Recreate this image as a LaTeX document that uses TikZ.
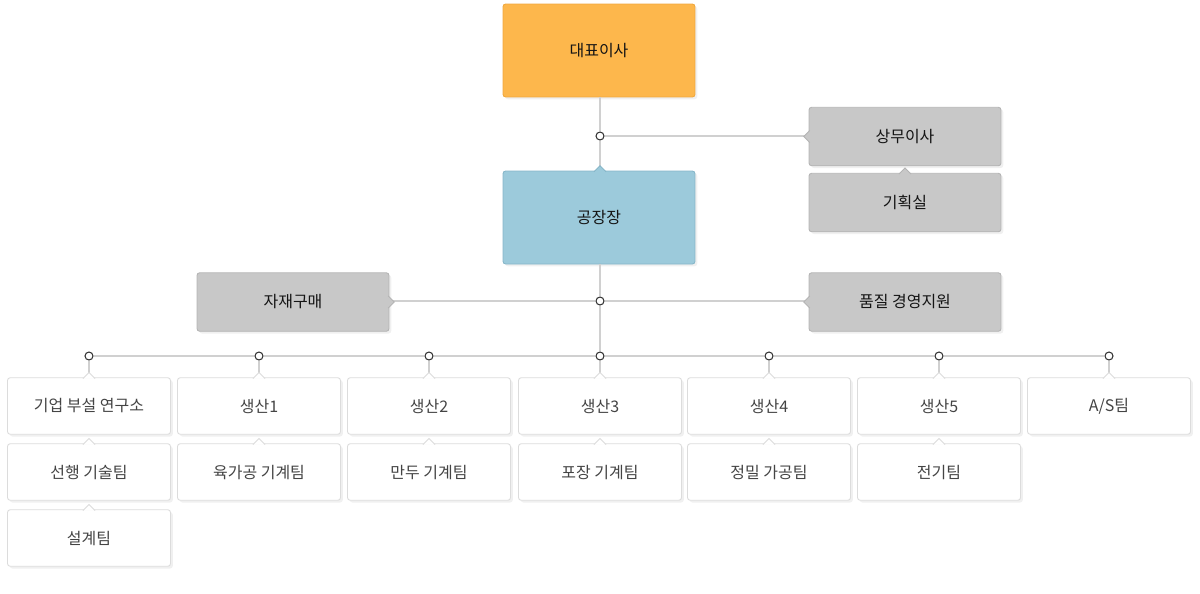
\documentclass[tikz,border=0pt]{standalone}
\usepackage{fontspec}
\setmainfont{Noto Sans CJK KR}
\usetikzlibrary{shadows,positioning}

\definecolor{ceofill}{HTML}{FDB74C}
\definecolor{ceoline}{HTML}{F0A83E}
\definecolor{plantfill}{HTML}{9CCADB}
\definecolor{plantline}{HTML}{86B6C8}
\definecolor{stafffill}{HTML}{C8C8C8}
\definecolor{staffline}{HTML}{B4B4B4}
\definecolor{teamline}{HTML}{DCDCDC}
\definecolor{linkcol}{HTML}{D0D0D0}
\definecolor{jointcol}{HTML}{333333}
\definecolor{darktxt}{HTML}{141414}
\definecolor{teamtxt}{HTML}{444444}

\begin{document}
\begin{tikzpicture}[x=0.02cm,y=-0.02cm,
  box/.style={rounded corners=1.5pt,inner sep=0pt,minimum width=3.84cm,
    font=\fontsize{9.1}{10}\selectfont,text=darktxt,line width=0.5pt,
    drop shadow={shadow xshift=1.3pt,shadow yshift=-1.3pt,opacity=0.12}},
  big/.style={box,minimum height=1.86cm},
  side/.style={box,fill=stafffill,draw=staffline,minimum height=1.17cm},
  team/.style={box,fill=white,draw=teamline,text=teamtxt,
    minimum width=3.26cm,minimum height=1.13cm},
  link/.style={draw=linkcol,line width=0.6pt},
  joint/.style={circle,draw=jointcol,fill=white,line width=0.6pt,
    inner sep=0pt,minimum size=0.16cm}]
  \useasboundingbox (0,0) rectangle (1200,593);

  % top of the chart
  \node[big,fill=ceofill,draw=ceoline] (ceo) at (599,50.5) {대표이사};
  \node[big,fill=plantfill,draw=plantline] (plant) at (599,217.5) {공장장};
  \node[side] (exec) at (905,136.5) {상무이사};
  \node[side] (plan) at (905,202.5) {기획실};
  \node[side] (purchase) at (293,302) {자재구매};
  \node[side] (quality) at (905,302) {품질 경영지원};

  % joints on the main line
  \node[joint] (j1) at (600,136) {};
  \node[joint] (j2) at (600,301) {};

  % teams, one column each
  \foreach \i/\x/\first/\second/\third in {
      1/89/{기업 부설 연구소}/{선행 기술팀}/{설계팀},
      2/259/{생산1}/{육가공 기계팀}/{},
      3/429/{생산2}/{만두 기계팀}/{},
      4/600/{생산3}/{포장 기계팀}/{},
      5/769/{생산4}/{정밀 가공팀}/{},
      6/939/{생산5}/{전기팀}/{},
      7/1109/{A/S팀}/{}/{}} {
    \node[joint] (b\i) at (\x,356) {};
    \node[team] (t\i a) at (\x,406) {\first};
    \ifx\second\empty\else
      \node[team] (t\i b) at (\x,472) {\second};
    \fi
    \ifx\third\empty\else
      \node[team] (t\i c) at (\x,538) {\third};
    \fi
  }

  % Draw the connectors
  \draw[link] (j1 |- ceo.south) -- (j1);
  \draw[link] (j1) -- (j1 |- plant.north);
  \draw[link] (j1) -- (j1 -| exec.west);
  \draw[link] (j2 |- plant.south) -- (j2);
  \draw[link] (j2) -- (j2 -| purchase.east);
  \draw[link] (j2) -- (j2 -| quality.west);
  \draw[link] (j2) -- (b4);
  \foreach \i [evaluate=\i as \j using int(\i+1)] in {1,...,6}
    \draw[link] (b\i) -- (b\j);
  \foreach \i in {1,...,7}
    \draw[link] (b\i) -- (t\i a);

  % small pointers on the boxes
  \filldraw[fill=plantfill,draw=plantline,line width=0.5pt]
    ([yshift=-0.7pt]plant.north -| j1) ++(-6,0) -- ++(6,-6) -- ++(6,6);
  \filldraw[fill=stafffill,draw=staffline,line width=0.5pt]
    ([xshift=-3.4pt,yshift=-0.7pt]plan.north) -- ++(6,-6) -- ++(6,6);
  \filldraw[fill=stafffill,draw=staffline,line width=0.5pt]
    ([yshift=3.4pt,xshift=0.7pt]exec.west) -- ++(-6,6) -- ++(6,6);
  \filldraw[fill=stafffill,draw=staffline,line width=0.5pt]
    ([yshift=3.4pt,xshift=0.7pt]quality.west) -- ++(-6,6) -- ++(6,6);
  \filldraw[fill=stafffill,draw=staffline,line width=0.5pt]
    ([yshift=3.4pt,xshift=-0.7pt]purchase.east) -- ++(6,6) -- ++(-6,6);
  \foreach \n in {t1a,t2a,t3a,t4a,t5a,t6a,t7a,t1b,t2b,t3b,t4b,t5b,t6b,t1c}
    \filldraw[fill=white,draw=teamline,line width=0.5pt]
      ([xshift=-3.4pt,yshift=-0.7pt]\n.north) -- ++(6,-6) -- ++(6,6);
\end{tikzpicture}
\end{document}
